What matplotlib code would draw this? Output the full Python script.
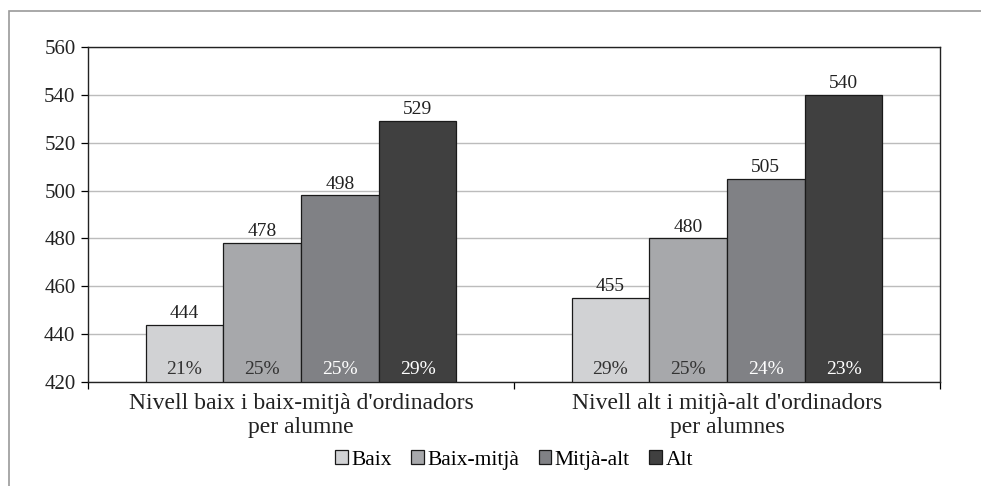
import matplotlib.pyplot as plt
import matplotlib.patches as mpatches
import numpy as np

plt.rcParams['font.family'] = ['Liberation Serif', 'DejaVu Serif']

groups = ["Nivell baix i baix-mitjà d'ordinadors\nper alumne",
          "Nivell alt i mitjà-alt d'ordinadors\nper alumnes"]
series = ["Baix", "Baix-mitjà", "Mitjà-alt", "Alt"]
values = [[444, 455], [478, 480], [498, 505], [529, 540]]
shares = [["21%", "29%"], ["25%", "25%"], ["25%", "24%"], ["29%", "23%"]]
colors = ["#d1d2d4", "#a7a8ab", "#808185", "#404040"]
share_colors = ["#333333", "#333333", "white", "white"]

fig = plt.figure(figsize=[9.81, 4.86], dpi=100)
ax = fig.add_axes([88/981, 1-382/486, (940-88)/981, (382-47)/486])

# outer frame (only top and left edges visible)
fig.add_artist(mpatches.Rectangle((9/981, -0.5), 1.5, 1-11/486+0.5,
                                  transform=fig.transFigure, fill=False,
                                  edgecolor="#9a9a9a", lw=1.2, clip_on=False))

x = np.arange(len(groups))
w = 0.1825
for i, name in enumerate(series):
    pos = x + (i - 1.5) * w
    bars = ax.bar(pos, np.array(values[i]) - 420, w, bottom=420, color=colors[i],
                  edgecolor="#1a1a1a", lw=0.9, label=name, zorder=3)
    for j, b in enumerate(bars):
        ax.annotate(str(values[i][j]), (pos[j], values[i][j]), xytext=(0, 2),
                    textcoords="offset points", ha="center", va="bottom",
                    fontsize=14, color="#222222")
        ax.annotate(shares[i][j], (pos[j], 420), xytext=(0, 9),
                    textcoords="offset points", ha="center", va="center",
                    fontsize=14, color=share_colors[i], zorder=4)

ax.set_ylim(420, 560)
ax.set_yticks(np.arange(420, 561, 20))
ax.set_xlim(-0.5, 1.5)
ax.set_xticks(x)
ax.set_xticklabels(groups, fontsize=17, linespacing=1.2, color="#222222")
ax.set_xticks([-0.5, 0.5, 1.5], minor=True)
ax.tick_params(axis="x", which="major", length=0, pad=8)
ax.tick_params(axis="x", which="minor", length=5, width=0.9, direction="out")
ax.tick_params(axis="y", length=5, width=0.9, labelsize=15, labelcolor="#222222", pad=4)
ax.yaxis.grid(True, color="#bcbcbc", lw=1.0, zorder=0)
for s in ax.spines.values():
    s.set_color("#222222")
    s.set_linewidth(1.0)

fig.legend(loc="center", bbox_to_anchor=(514/981, 1-460/486), ncol=4, frameon=False,
           fontsize=15.5, handlelength=0.6, handleheight=0.6, handletextpad=0.15,
           columnspacing=0.9, borderpad=0)

plt.savefig("out.png", dpi=100)
